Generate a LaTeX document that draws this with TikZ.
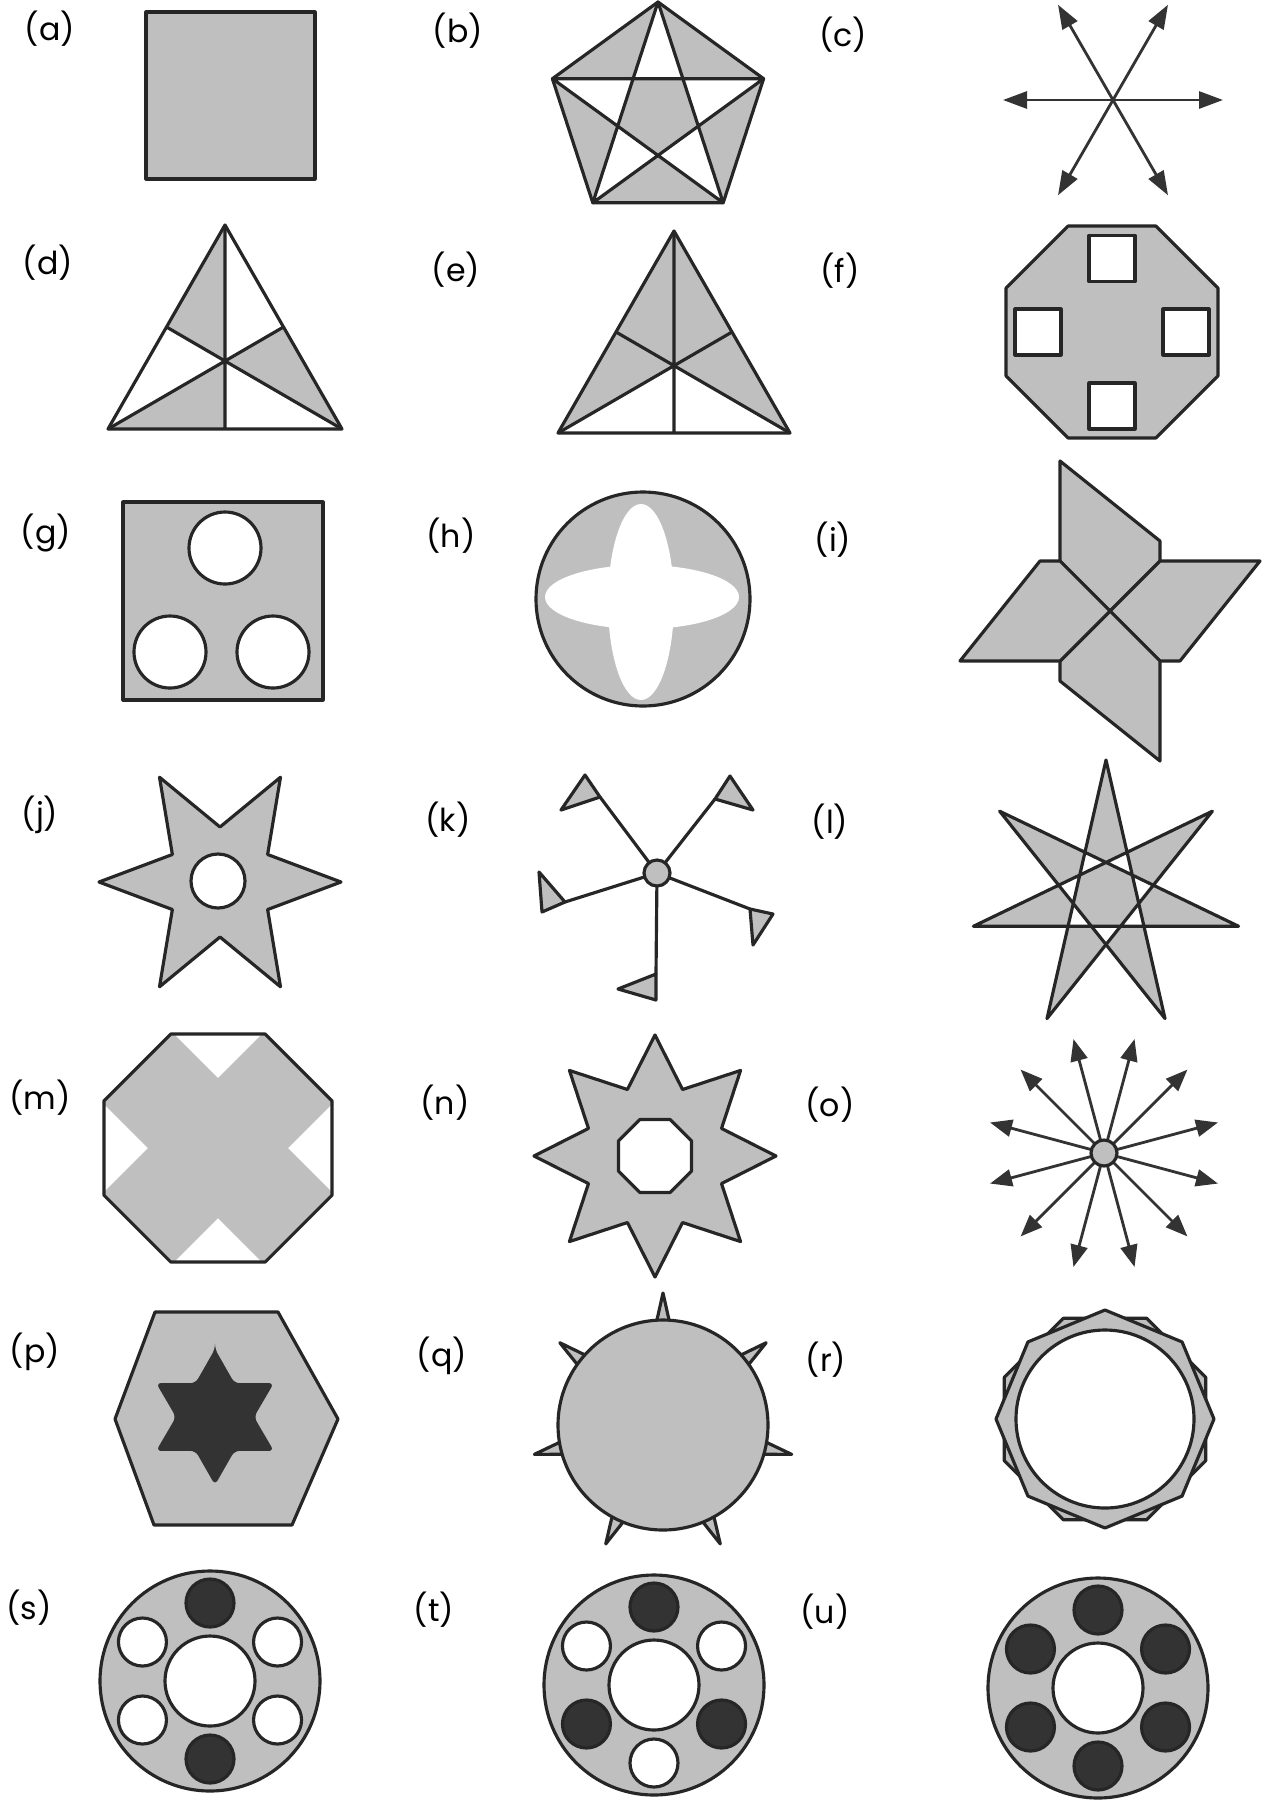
\documentclass[tikz,border=0pt]{standalone}
\usepackage{fontspec}
\setmainfont{Poppins}
\usetikzlibrary{arrows.meta}
\definecolor{panelgrey}{gray}{0.75}
\definecolor{ink}{gray}{0.2}

\begin{document}
\begin{tikzpicture}[x=0.1mm, y=-0.1mm,
  edge/.style={draw=black!85, line width=0.9pt, line join=round},
  piece/.style={edge, fill=panelgrey},
  hole/.style={edge, fill=white},
  blot/.style={edge, fill=ink},
  ray/.style={draw=black!80, line width=0.8pt, -{Triangle[length=2.4mm, width=1.7mm]}},
  tag/.style={font=\fontsize{9}{11}\selectfont, inner sep=0pt}]

  \useasboundingbox (0,0) rectangle (1263,1808);
  \fill[white] (0,0) rectangle (1263,1808);

  %--- labels ---
  \foreach \nm/\x/\y in {a/50/29, b/458/31, c/843/35, d/48/263, e/456/270,
                         f/840/271, g/46/533, h/451/536, i/833/540, j/40/815,
                         k/448/820, l/830/822, m/40/1098, n/445/1103, o/830/1105,
                         p/35/1352, q/442/1356, r/826/1360, s/29/1608, t/434/1610,
                         u/825/1612}
    \node[tag] (lbl\nm) at (\x,\y) {(\nm)};

  %--- (a) square ---
  \filldraw[piece] (146,12) rectangle (315,179);

  %--- (b) pentagon with pentagram ---
  \coordinate (bA) at (658,2);
  \coordinate (bB) at (552.4,78.7);
  \coordinate (bC) at (592.8,202.8);
  \coordinate (bD) at (723.2,202.8);
  \coordinate (bE) at (763.6,78.7);
  \fill[panelgrey] (bA)--(bE)--(bD)--(bC)--(bB)--cycle;
  \fill[white, even odd rule] (bA)--(bC)--(bE)--(bB)--(bD)--cycle;
  \draw[edge] (bA)--(bE)--(bD)--(bC)--(bB)--cycle;
  \draw[edge] (bA)--(bC)--(bE)--(bB)--(bD)--cycle;

  %--- (c) six arrows ---
  \coordinate (cC) at (1113,100);
  \foreach \a in {0,60,...,300}
    \draw[ray] (cC) -- ++(\a:110);

  %--- (d) triangle, alternate sixths ---
  \coordinate (dT) at (225,225);
  \coordinate (dL) at (108,429);
  \coordinate (dR) at (342,429);
  \coordinate (dG) at (225,361);
  \coordinate (dML) at (166.5,327);
  \coordinate (dMR) at (283.5,327);
  \coordinate (dMB) at (225,429);
  \fill[panelgrey] (dT)--(dML)--(dG)--cycle;
  \fill[panelgrey] (dMR)--(dR)--(dG)--cycle;
  \fill[panelgrey] (dL)--(dMB)--(dG)--cycle;
  \draw[edge] (dT)--(dR)--(dL)--cycle;
  \draw[edge] (dT)--(dMB) (dL)--(dMR) (dR)--(dML);

  %--- (e) triangle, lower sixths white ---
  \coordinate (eT) at (674,231);
  \coordinate (eL) at (558,433);
  \coordinate (eR) at (790,433);
  \coordinate (eG) at (674,365.7);
  \coordinate (eML) at (616,332);
  \coordinate (eMR) at (732,332);
  \coordinate (eMB) at (674,433);
  \fill[panelgrey] (eT)--(eR)--(eG)--(eL)--cycle;
  \draw[edge] (eT)--(eR)--(eL)--cycle;
  \draw[edge] (eT)--(eMB) (eL)--(eMR) (eR)--(eML);

  %--- (f) octagon with four squares ---
  \begin{scope}[shift={(1112,332)}]
    \filldraw[piece] (22.5:114.7) \foreach \a in {67.5,112.5,...,337.5} { -- (\a:114.7) } -- cycle;
    \foreach \x/\y in {0/-73.5, -74/0, 74/0, 0/74}
      \filldraw[hole] (\x-23,\y-23) rectangle (\x+23,\y+23);
  \end{scope}

  %--- (g) square with three circles ---
  \filldraw[piece] (123,502) rectangle (323,700);
  \filldraw[hole] (225,548) circle (36);
  \filldraw[hole] (170,652) circle (36);
  \filldraw[hole] (273,652) circle (36);

  %--- (h) circle with white cross ---
  \filldraw[piece] (643,599) circle (107);
  \fill[white] (642,597) ellipse (97 and 32);
  \fill[white] (641,602) ellipse (33 and 98);

  %--- (i) pinwheel ---
  \foreach \r in {0,-90,-180,-270}
    \filldraw[piece, shift={(1110,611)}, rotate=\r]
      (0,0) -- (-50,-50) -- (-50,-150) -- (50,-70) -- (50,-50) -- cycle;

  %--- (j) six-pointed star with hole ---
  \begin{scope}[shift={(220,882)}]
    \filldraw[piece] (0:121) \foreach \a in {0,60,...,300} { -- (\a+30:55) -- (\a+60:121) } -- cycle;
    \filldraw[hole] (-2,-1) circle (27);
  \end{scope}

  %--- (k) hub with five flags ---
  \coordinate (kC) at (657,873);
  \draw[edge] (kC) -- (600,797);
  \draw[edge] (kC) -- (715,799);
  \draw[edge] (kC) -- (565,902);
  \draw[edge] (kC) -- (750,909);
  \draw[edge] (kC) -- (656,974);
  \filldraw[piece] (600,797) -- (585,775) -- (561,810) -- cycle;
  \filldraw[piece] (715,799) -- (730,776) -- (753,810) -- cycle;
  \filldraw[piece] (565,902) -- (542,912) -- (539,872) -- cycle;
  \filldraw[piece] (750,909) -- (773,914) -- (753,945) -- cycle;
  \filldraw[piece] (656,974) -- (656,1000) -- (618,989) -- cycle;
  \filldraw[piece] (kC) circle (13);

  %--- (l) heptagram {7/3} ---
  \begin{scope}[shift={(1106,896)}]
    \filldraw[piece, even odd rule] (-90:136)
      \foreach \k in {3,6,2,5,1,4} { -- ({-90+\k*360/7}:136) } -- cycle;
  \end{scope}

  %--- (m) octagon with grey cross ---
  \begin{scope}[shift={(218,1148)}]
    \begin{scope}
      \clip (22.5:123.4) \foreach \a in {67.5,112.5,...,337.5} { -- (\a:123.4) } -- cycle;
      \fill[panelgrey] [rotate=45] (-200,-49.5) rectangle (200,49.5)
                       [rotate=-90] (-200,-49.5) rectangle (200,49.5);
    \end{scope}
    \draw[edge] (22.5:123.4) \foreach \a in {67.5,112.5,...,337.5} { -- (\a:123.4) } -- cycle;
  \end{scope}

  %--- (n) eight-pointed star with octagonal hole ---
  \begin{scope}[shift={(655,1156)}]
    \filldraw[piece] (0:121) \foreach \a in {0,45,...,315} { -- (\a+22.5:72) -- (\a+45:121) } -- cycle;
    \filldraw[hole] (22.5:39.5) \foreach \a in {67.5,112.5,...,337.5} { -- (\a:39.5) } -- cycle;
  \end{scope}

  %--- (o) twelve arrows ---
  \coordinate (oC) at (1104,1153);
  \foreach \a in {15,45,...,345}
    \draw[ray, -{Triangle[length=2.2mm, width=1.7mm]}] (oC) -- ++(\a:118);
  \filldraw[piece] (oC) circle (13);

  %--- (p) hexagon with dark star ---
  \filldraw[piece] (338,1419) -- (292,1525) -- (154,1525) -- (115,1419) -- (155,1312) -- (278,1312) -- cycle;
  \begin{scope}[shift={(215,1417)}]
    \fill[ink, rounded corners=1.5pt] (-90:68) \foreach \a in {-90,-30,...,210} { -- (\a+30:39) -- (\a+60:68) } -- cycle;
  \end{scope}

  %--- (q) disc with seven spikes ---
  \begin{scope}[shift={(663,1425)}]
    \foreach \k in {0,...,6}
      \filldraw[piece] ({-90+\k*360/7}:132) -- ({-90+\k*360/7+4.5}:98) -- ({-90+\k*360/7-4.5}:98) -- cycle;
    \filldraw[piece] (0,0) circle (105);
  \end{scope}

  %--- (r) two octagons with white disc ---
  \begin{scope}[shift={(1105,1419)}]
    \filldraw[piece] (22.5:109) \foreach \a in {67.5,112.5,...,337.5} { -- (\a:109) } -- cycle;
    \filldraw[piece] (0:109) \foreach \a in {45,90,...,315} { -- (\a:109) } -- cycle;
    \filldraw[hole] (0,0) circle (89);
  \end{scope}

  %--- (s) (t) (u) rings with six holes ---
  \foreach \cx/\cy/\ta/\tb/\tc/\td/\te/\tf in
      {210/1681/blot/hole/hole/blot/hole/hole,
       654/1685/blot/hole/blot/hole/blot/hole,
       1098/1688/blot/blot/blot/blot/blot/blot} {
    \begin{scope}[shift={(\cx,\cy)}]
      \filldraw[piece] (0,0) circle (110);
      \filldraw[hole] (0,0) circle (45);
      \filldraw[\ta] (-90:78) circle (24);
      \filldraw[\tb] (-30:78) circle (24);
      \filldraw[\tc] (30:78) circle (24);
      \filldraw[\td] (90:78) circle (24);
      \filldraw[\te] (150:78) circle (24);
      \filldraw[\tf] (210:78) circle (24);
    \end{scope}
  }
\end{tikzpicture}
\end{document}
